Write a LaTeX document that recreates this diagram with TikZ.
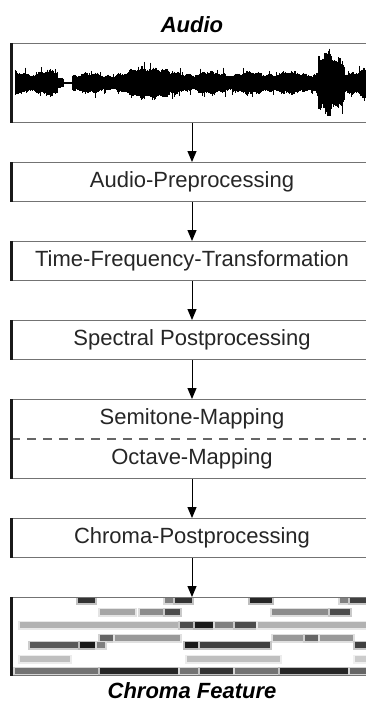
\documentclass[tikz,border=0pt]{standalone}
\usepackage{fontspec}
\setmainfont{Liberation Sans}
\usetikzlibrary{positioning,arrows.meta}

\tikzset{
  stage/.style={draw=black!55, line width=1.4pt, minimum width=360pt, minimum height=38.6pt, inner sep=0pt, text=black!85},
  half/.style={minimum height=40pt, inner sep=0pt, text=black!85},
  flow/.style={line width=1pt, -{Triangle[length=11pt,width=9pt]}},
  caption/.style={font=\fontsize{22}{26}\selectfont\bfseries\itshape, inner sep=0pt}
}

\begin{document}
\begin{tikzpicture}[x=1pt, y=-1pt, node distance=39pt, font=\fontsize{22}{26}\selectfont]
  \path[use as bounding box, fill=white] (0,0) rectangle (365,704);

  % chromagram (soft halo first, then core)
  \foreach \ya/\yb/\xa/\xb/\k in {
      598/603/78/95/80, 598/603/165/175/50, 598/603/175/192/80, 598/603/250/272/85, 598/603/340/350/50, 598/603/350/372/75,
      609/615/100/135/35, 609/615/140/165/45, 609/615/165/180/70, 609/615/272/330/45, 609/615/330/350/70,
      622/628/20/180/30, 622/628/180/195/70, 622/628/195/215/90, 622/628/215/235/50, 622/628/235/258/70, 622/628/258/372/30,
      635/641/100/115/60, 635/641/115/180/40, 635/641/273/305/40, 635/641/305/320/60, 635/641/320/353/40,
      642/648/30/80/65, 642/648/80/97/90, 642/648/97/105/50, 642/648/185/200/90, 642/648/200/270/75, 642/648/355/372/75,
      656/662/20/70/25, 656/662/187/280/25, 656/662/355/372/20,
      668/674/15/100/55, 668/674/100/180/85, 668/674/180/200/55, 668/674/200/235/80, 668/674/235/280/55, 668/674/280/350/85, 668/674/350/372/60} {
    \pgfmathsetmacro\soft{0.3*\k}
    \fill[black!\soft] (\xa-2,\ya-1.5) rectangle (\xb+2,\yb+1.5);
    \fill[black!\k] (\xa,\ya) rectangle (\xb,\yb);
  }

  % processing chain
  \node[stage, minimum height=78.6pt] (audio) at (192,83) {};
  \node[stage, below=of audio] (pre) {Audio-Preprocessing};
  \node[stage, below=of pre] (tft) {Time-Frequency-Transformation};
  \node[stage, below=of tft] (spec) {Spectral Postprocessing};
  \node[stage, below=of spec, minimum height=78.6pt] (map) {};
  \node[half, below=0pt of map.north] (semi) {Semitone-Mapping};
  \node[half, above=0pt of map.south] (oct) {Octave-Mapping};
  \node[stage, below=of map] (post) {Chroma-Postprocessing};
  \node[stage, below=of post, minimum height=77.6pt] (chroma) {};

  \node[caption, above=10pt of audio] (audiotitle) {Audio};
  \node[caption, below=6pt of chroma] (chromatitle) {Chroma Feature};

  \draw[black!60, line width=1.5pt, dash pattern=on 9pt off 7pt] (map.west) -- (map.east);
  \foreach \n in {audio,pre,tft,spec,map,post,chroma}
    \draw[line width=2.6pt, black!90] (\n.north west) -- (\n.south west);

  \foreach \a/\b in {audio/pre, pre/tft, tft/spec, spec/map, map/post, post/chroma}
    \draw[flow] (\a) -- (\b);

  % waveform
  \pgfmathsetseed{7}
  \foreach \x in {15,15.5,...,372} {
    \pgfmathsetmacro\amp{\x<58 ? 11 : (\x<64 ? 5 : (\x<72 ? 1 : (\x<126 ? 9 : (\x<150 ? 9+0.45*(\x-126) : (\x<170 ? 20-0.5*(\x-150) : (\x<318 ? 10 : (\x<332 ? 28 : (\x<345 ? 23 : 13))))))))}
    \pgfmathsetmacro\wob{1+0.18*sin(\x*9)+0.12*sin(\x*31)}
    \pgfmathsetmacro\up{\amp*\wob*(0.75+0.25*rnd)*(rnd>0.97 ? 1.5 : 1)}
    \pgfmathsetmacro\dn{\amp*\wob*(0.75+0.25*rnd)*(rnd>0.97 ? 1.5 : 1)}
    \draw[line width=1pt] (\x,83-\up) -- (\x,83+\dn);
  }
\end{tikzpicture}
\end{document}
